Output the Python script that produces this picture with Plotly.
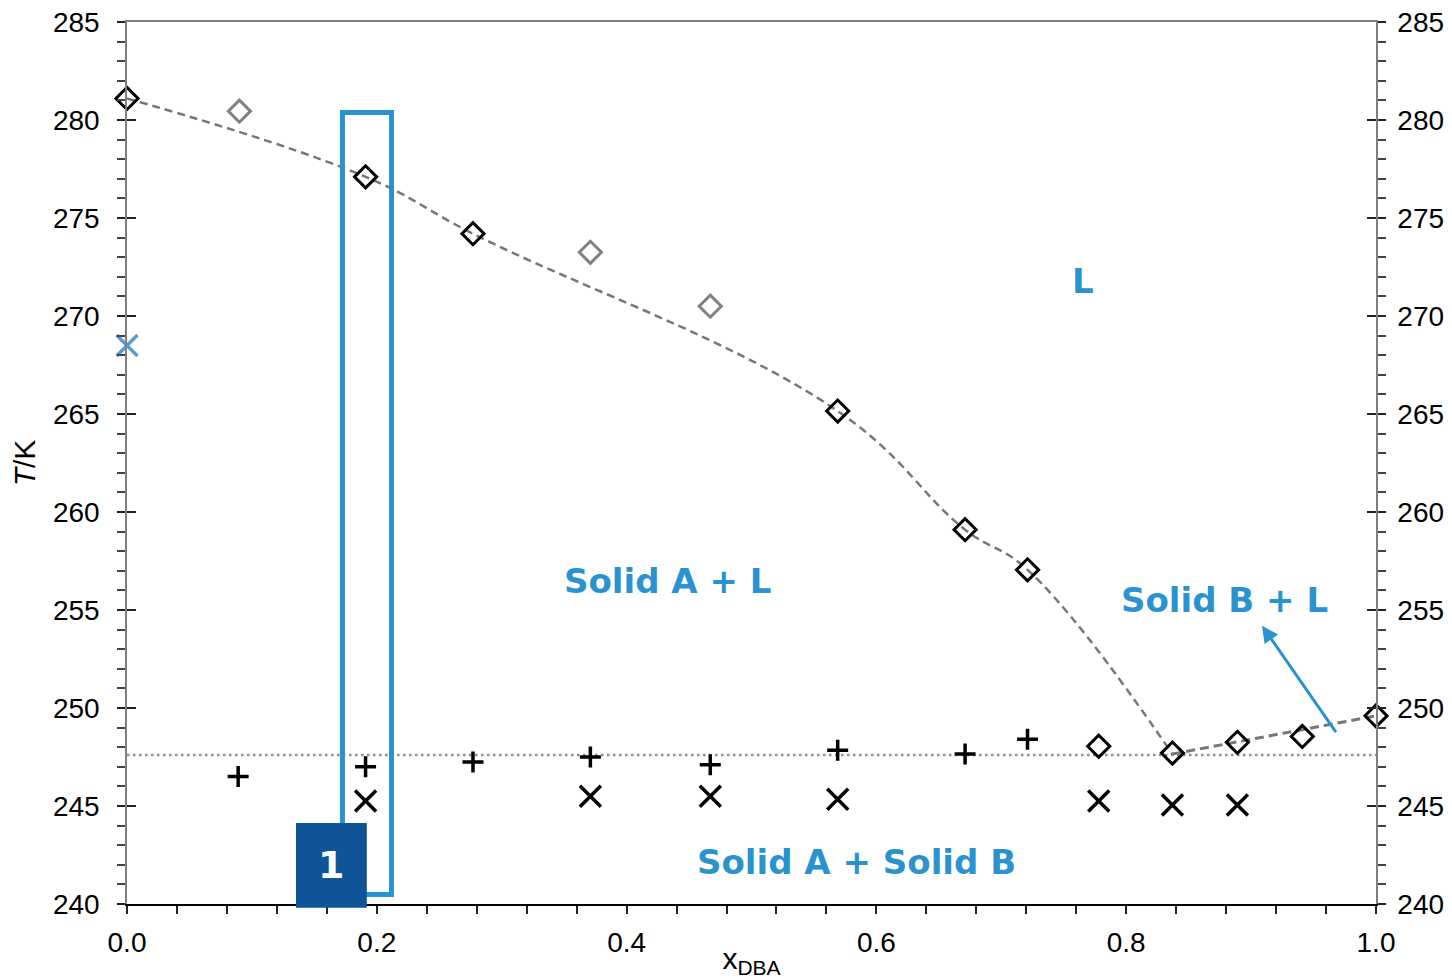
import plotly.graph_objects as go

# ---------------- data ----------------
liq_x = [0.0, 0.191, 0.277, 0.569, 0.671, 0.721, 0.778, 0.837, 0.889, 0.941, 1.0]
liq_T = [281.1, 277.1, 274.2, 265.15, 259.1, 257.05, 248.05, 247.7, 248.25, 248.55, 249.6]

grey_x = [0.090, 0.371, 0.467]
grey_T = [280.45, 273.25, 270.5]

blue_x = [0.0]
blue_T = [268.5]

plus_x = [0.089, 0.191, 0.277, 0.371, 0.467, 0.569, 0.671, 0.721]
plus_T = [246.5, 247.0, 247.25, 247.5, 247.1, 247.85, 247.65, 248.4]

cross_x = [0.191, 0.371, 0.467, 0.569, 0.778, 0.837, 0.889]
cross_T = [245.25, 245.5, 245.5, 245.35, 245.25, 245.05, 245.05]

# smoothed liquidus of A (through the black diamonds) and of B
fitA_x = [0.0, 0.191, 0.277, 0.569, 0.671, 0.721, 0.837]
fitA_T = [281.1, 277.1, 274.2, 265.15, 259.1, 257.05, 247.65]

fitB_x = [0.837, 1.0]
fitB_T = [247.65, 249.6]

eutectic_x = [0.0, 1.0]
eutectic_T = [247.6, 247.6]

x_ticks = [0.0, 0.2, 0.4, 0.6, 0.8, 1.0]
y_ticks = [240, 245, 250, 255, 260, 265, 270, 275, 280, 285]

BLUE = "#2A93CF"
NAVY = "#0F5497"
GREY = "#7F7F7F"

fig = go.Figure()

fig.add_trace(go.Scatter(x=eutectic_x, y=eutectic_T, mode="lines",
                         line=dict(color="#8C8C8C", width=2.5, dash="2.5px,3.5px"),
                         hoverinfo="skip", showlegend=False))
fig.add_trace(go.Scatter(x=fitA_x, y=fitA_T, mode="lines", line_shape="spline",
                         line=dict(color="#777777", width=2.5, dash="8px,5px", smoothing=1.2),
                         showlegend=False))
fig.add_trace(go.Scatter(x=fitB_x, y=fitB_T, mode="lines",
                         line=dict(color="#777777", width=3, dash="9px,5px"),
                         showlegend=False))
fig.add_trace(go.Scatter(x=grey_x, y=grey_T, mode="markers", cliponaxis=False,
                         marker=dict(symbol="diamond-open", size=17, color="#808080",
                                     line=dict(width=3, color="#808080")),
                         showlegend=False))
fig.add_trace(go.Scatter(x=liq_x, y=liq_T, mode="markers", cliponaxis=False,
                         marker=dict(symbol="diamond-open", size=17, color="black",
                                     line=dict(width=3, color="black")),
                         showlegend=False))
fig.add_trace(go.Scatter(x=plus_x, y=plus_T, mode="markers", cliponaxis=False,
                         marker=dict(symbol="cross-thin", size=15, color="black",
                                     line=dict(width=3.5, color="black")),
                         showlegend=False))
fig.add_trace(go.Scatter(x=cross_x, y=cross_T, mode="markers", cliponaxis=False,
                         marker=dict(symbol="x-thin", size=21, color="black",
                                     line=dict(width=3.5, color="black")),
                         showlegend=False))
fig.add_trace(go.Scatter(x=blue_x, y=blue_T, mode="markers", cliponaxis=False,
                         marker=dict(symbol="x-thin", size=21, color="#5B9BD5",
                                     line=dict(width=3.5, color="#5B9BD5")),
                         showlegend=False))

# highlight rectangle around x ~ 0.19
fig.add_shape(type="rect", xref="x", yref="y", x0=0.1725, x1=0.2118, y0=240.48, y1=280.38,
              line=dict(color=BLUE, width=5), fillcolor="rgba(0,0,0,0)", layer="above")
# numbered badge
fig.add_shape(type="rect", xref="paper", yref="paper", x0=0.1353, x1=0.1920, y0=-0.0042, y1=0.0918,
              line=dict(width=0), fillcolor=NAVY, layer="above")
fig.add_annotation(xref="paper", yref="paper", x=(0.1353 + 0.1920) / 2, y=0.0438,
                   xanchor="center", yanchor="middle",
                   text="<b>1</b>", showarrow=False,
                   font=dict(family="DejaVu Sans", size=38, color="white"))

lab_font = dict(family="DejaVu Sans", size=34, color=BLUE)
fig.add_annotation(x=0.7654, y=271.8, text="<b>L</b>", showarrow=False, font=lab_font,
                   xanchor="center", yanchor="middle")
fig.add_annotation(x=0.433, y=256.5, text="<b>Solid A + L</b>", showarrow=False, font=lab_font,
                   xanchor="center", yanchor="middle")
fig.add_annotation(x=0.879, y=255.5, text="<b>Solid B + L</b>", showarrow=False, font=lab_font,
                   xanchor="center", yanchor="middle")
fig.add_annotation(x=0.5837, y=242.15, text="<b>Solid A + Solid B</b>", showarrow=False, font=lab_font,
                   xanchor="center", yanchor="middle")
# arrow
fig.add_annotation(x=0.9087, y=254.2, ax=75, ay=108, text="", showarrow=True,
                   arrowhead=2, arrowsize=1.1, arrowwidth=3, arrowcolor=BLUE)

tickfont = dict(family="Liberation Sans, Arial", size=28, color="black")
titlefont = dict(family="Liberation Sans, Arial", size=30, color="black")

fig.update_layout(
    width=1444, height=971,
    margin=dict(l=119, r=76, t=14, b=75, autoexpand=False),
    paper_bgcolor="white", plot_bgcolor="white",
    showlegend=False,
    xaxis=dict(range=[0, 1], tickvals=x_ticks, tickformat=".1f", automargin=False,
               ticklabeloverflow="allow",
               ticks="outside", ticklen=8, tickwidth=1.5, tickcolor="#222",
               minor=dict(dtick=0.04, tick0=0, ticks="outside", ticklen=8, tickwidth=1.5, tickcolor="#222"),
               showline=True, linecolor="black", linewidth=1.5,
               showgrid=False, zeroline=False, tickfont=tickfont, ticklabelstandoff=5,
               title=dict(text="x<sub>DBA</sub>", font=titlefont, standoff=0)),
    xaxis2=dict(range=[0, 1], overlaying="x", side="top", showline=True, linecolor=GREY,
                linewidth=1.5, ticks="", showticklabels=False, showgrid=False, zeroline=False,
                automargin=False),
    yaxis=dict(range=[240, 285], tickvals=y_ticks, automargin=False,
               ticklabeloverflow="allow",
               ticks="outside", ticklen=8, tickwidth=1.5, tickcolor="#222",
               minor=dict(dtick=1, tick0=240, ticks="outside", ticklen=8, tickwidth=1.5, tickcolor="#444"),
               showline=True, linecolor=GREY, linewidth=1.5,
               showgrid=False, zeroline=False, tickfont=tickfont, ticklabelstandoff=12,
               title=dict(text="<i>T</i>/K", font=titlefont, standoff=14)),
    yaxis2=dict(range=[240, 285], overlaying="y", side="right", tickvals=y_ticks, automargin=False,
                ticklabeloverflow="allow",
                ticks="outside", ticklen=8, tickwidth=1.5, tickcolor="#222",
                minor=dict(dtick=1, tick0=240, ticks="outside", ticklen=8, tickwidth=1.5, tickcolor="#444"),
                showline=True, linecolor=GREY, linewidth=1.5,
                showgrid=False, zeroline=False, tickfont=tickfont, ticklabelstandoff=6),
    yaxis3=dict(range=[240, 285], overlaying="y", side="left", tickvals=y_ticks, automargin=False,
                ticks="inside", ticklen=9, tickwidth=1.5, tickcolor="#222",
                showticklabels=False, showline=False, showgrid=False, zeroline=False),
    yaxis4=dict(range=[240, 285], overlaying="y", side="right", tickvals=y_ticks, automargin=False,
                ticks="inside", ticklen=9, tickwidth=1.5, tickcolor="#222",
                showticklabels=False, showline=False, showgrid=False, zeroline=False),
)

# invisible traces so the extra axes are drawn
fig.add_trace(go.Scatter(x=[None], y=[None], xaxis="x2", yaxis="y", showlegend=False, hoverinfo="skip"))
fig.add_trace(go.Scatter(x=[None], y=[None], xaxis="x", yaxis="y2", showlegend=False, hoverinfo="skip"))
fig.add_trace(go.Scatter(x=[None], y=[None], xaxis="x", yaxis="y3", showlegend=False, hoverinfo="skip"))
fig.add_trace(go.Scatter(x=[None], y=[None], xaxis="x", yaxis="y4", showlegend=False, hoverinfo="skip"))

fig.write_html("out.html")
